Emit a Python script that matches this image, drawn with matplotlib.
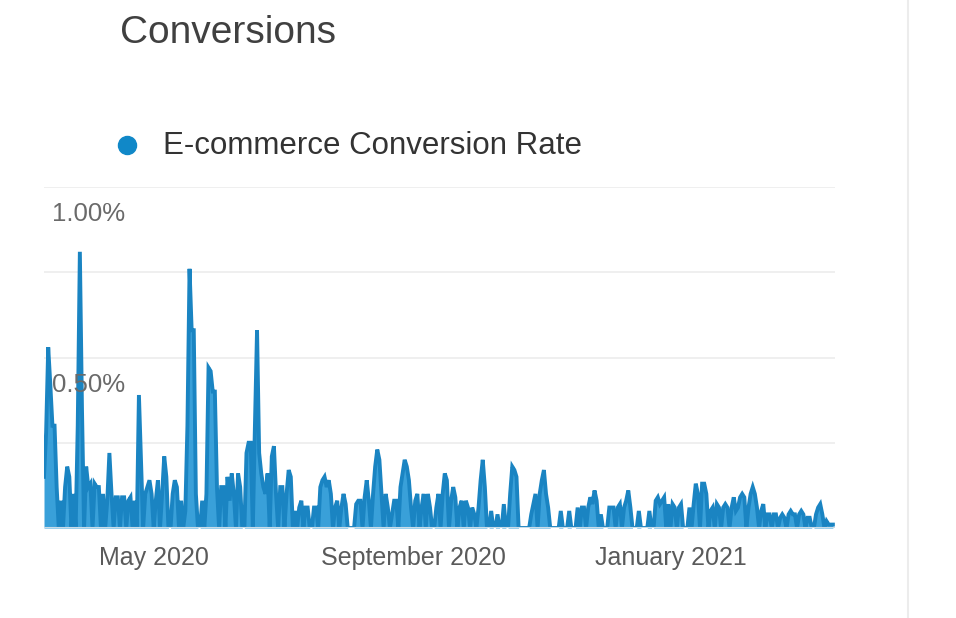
import matplotlib
matplotlib.use('Agg')
import matplotlib.pyplot as plt
import matplotlib.dates as mdates
from matplotlib.lines import Line2D
import pandas as pd

plt.rcParams['font.family'] = ['Liberation Sans', 'DejaVu Sans']

# daily e-commerce conversion rate (%)
mar_2020 = [0.15, 0.28, 0.53, 0.42, 0.30, 0.30, 0.12, 0.0, 0.08, 0.0, 0.12,
            0.18, 0.15, 0.0, 0.10, 0.0, 0.30, 0.81, 0.35, 0.0, 0.18, 0.12]
apr_2020 = [0.13, 0.0, 0.13, 0.12, 0.12, 0.0, 0.10, 0.0, 0.08, 0.22,
            0.10, 0.0, 0.09, 0.09, 0.0, 0.09, 0.09, 0.0, 0.08, 0.09,
            0.0, 0.08, 0.0, 0.39, 0.20, 0.0, 0.10, 0.12, 0.14, 0.10]
may_2020 = [0.0, 0.08, 0.14, 0.0, 0.10, 0.21, 0.15, 0.0, 0.0, 0.10,
            0.14, 0.12, 0.0, 0.08, 0.0, 0.05, 0.30, 0.76, 0.58, 0.58,
            0.10, 0.0, 0.0, 0.08, 0.0, 0.10, 0.47, 0.46, 0.40, 0.40, 0.12]
jun_2020 = [0.0, 0.12, 0.12, 0.0, 0.15, 0.08, 0.16, 0.10, 0.0, 0.16,
            0.12, 0.0, 0.0, 0.22, 0.25, 0.25, 0.0, 0.30, 0.58, 0.22,
            0.16, 0.12, 0.10, 0.16, 0.0, 0.21, 0.24, 0.10, 0.0, 0.12]
jul_2020 = [0.12, 0.0, 0.10, 0.17, 0.15, 0.0, 0.05, 0.0, 0.06, 0.08,
            0.0, 0.06, 0.06, 0.0, 0.0, 0.06, 0.06, 0.0, 0.12, 0.14,
            0.15, 0.12, 0.14, 0.10, 0.0, 0.06, 0.08, 0.0, 0.06, 0.10, 0.07]
aug_2020 = [0.0, 0.0, 0.0, 0.0, 0.07, 0.08, 0.08, 0.0, 0.09, 0.14,
            0.08, 0.0, 0.10, 0.18, 0.23, 0.20, 0.10, 0.0, 0.10, 0.06,
            0.0, 0.04, 0.08, 0.08, 0.0, 0.12, 0.16, 0.20, 0.18, 0.14, 0.06]
sep_2020 = [0.0, 0.08, 0.10, 0.0, 0.06, 0.10, 0.0, 0.10, 0.06, 0.0,
            0.0, 0.06, 0.10, 0.0, 0.10, 0.16, 0.14, 0.0, 0.08, 0.12,
            0.09, 0.0, 0.06, 0.08, 0.0, 0.08, 0.06, 0.0, 0.06, 0.04]
oct_2020 = [0.0, 0.06, 0.14, 0.20, 0.12, 0.0, 0.0, 0.05, 0.0, 0.0,
            0.04, 0.0, 0.0, 0.07, 0.0, 0.0, 0.10, 0.18, 0.17, 0.15,
            0.0, 0.0, 0.0, 0.0, 0.0, 0.0, 0.04, 0.07, 0.10, 0.0, 0.10]
nov_2020 = [0.14, 0.17, 0.10, 0.06, 0.0, 0.0, 0.0, 0.0, 0.0, 0.05,
            0.0, 0.0, 0.0, 0.05, 0.0, 0.0, 0.0, 0.06, 0.0, 0.06,
            0.06, 0.0, 0.06, 0.09, 0.07, 0.11, 0.08, 0.0, 0.04, 0.0]
dec_2020 = [0.0, 0.0, 0.06, 0.06, 0.06, 0.0, 0.06, 0.07, 0.0, 0.06,
            0.08, 0.11, 0.06, 0.0, 0.0, 0.0, 0.05, 0.0, 0.0, 0.0,
            0.0, 0.05, 0.0, 0.0, 0.08, 0.09, 0.07, 0.08, 0.09, 0.0, 0.07]
jan_2021 = [0.0, 0.07, 0.06, 0.0, 0.06, 0.07, 0.0, 0.0, 0.0, 0.06,
            0.0, 0.07, 0.13, 0.10, 0.0, 0.13, 0.13, 0.10, 0.0, 0.05,
            0.06, 0.0, 0.07, 0.06, 0.0, 0.06, 0.07, 0.06, 0.0, 0.06, 0.09]
feb_2021 = [0.05, 0.06, 0.09, 0.10, 0.09, 0.0, 0.06, 0.10, 0.12, 0.10,
            0.06, 0.0, 0.05, 0.07, 0.0, 0.04, 0.04, 0.0, 0.04, 0.04,
            0.0, 0.03, 0.04, 0.03, 0.0, 0.04, 0.05, 0.04]
mar_2021 = [0.04, 0.0, 0.04, 0.05, 0.04, 0.0, 0.03, 0.03, 0.0, 0.0,
            0.04, 0.06, 0.07, 0.04, 0.0, 0.02, 0.01, 0.01, 0.01]

rate = (mar_2020 + apr_2020 + may_2020 + jun_2020 + jul_2020 + aug_2020 +
        sep_2020 + oct_2020 + nov_2020 + dec_2020 + jan_2021 + feb_2021 +
        mar_2021)
dates = pd.date_range('2020-03-10', periods=len(rate), freq='D')

y_ticks = [0.5, 1.0]
y_tick_labels = ['0.50%', '1.00%']
x_ticks = ['2020-05-01', '2020-09-01', '2021-01-01']
x_tick_labels = ['May 2020', 'September 2020', 'January 2021']

W, H = 956, 618
fig = plt.figure(figsize=(W / 100, H / 100), dpi=100)
ax = fig.add_axes([44 / W, 1 - 528 / H, (835 - 44) / W, (528 - 187) / H])

line_col = '#1a84c2'
fill_col = '#2898d6'

ax.fill_between(dates, rate, 0, color=fill_col, alpha=0.92, lw=0, zorder=2)
ax.plot(dates, rate, color=line_col, lw=2.8, solid_joinstyle='miter', zorder=3)

ax.set_ylim(0, 1.0)
ax.set_xlim(dates[0], dates[0] + pd.Timedelta(days=len(rate)))

# gridlines
for g in [0.25, 0.5, 0.75, 1.0]:
    ax.axhline(g, color='#ececec', lw=1.2, zorder=1)
ax.axhline(0, color='#c9dce8', lw=1.5, zorder=4)

for s in ax.spines.values():
    s.set_visible(False)
ax.set_yticks([])
ax.set_xticks([mdates.date2num(pd.Timestamp(d)) for d in x_ticks])
ax.set_xticklabels(x_tick_labels, fontsize=18, color='#5a5a5a')
ax.tick_params(axis='x', length=0, pad=13)

# y labels sit inside the plot, just under their gridline
for v, lab in zip(y_ticks, y_tick_labels):
    ax.text(0.01, v - 0.045, lab, transform=ax.get_yaxis_transform(),
            ha='left', va='top', fontsize=18.5, color='#6a6a6a', zorder=6)

# header
fig.text(120 / W, 1 - 33 / H, 'Conversions', fontsize=28, color='#404040',
         ha='left', va='center')
fig.add_artist(Line2D([127 / W], [1 - 145 / H], marker='o', markersize=13,
                      color='#1088c8', lw=0))
fig.text(163 / W, 1 - 146 / H, 'E-commerce Conversion Rate', fontsize=22.5,
         color='#333333', ha='left', va='center')

# card border on the right
fig.add_artist(Line2D([908 / W, 908 / W], [0, 1], color='#ececec', lw=1.5))

fig.savefig('out.png', dpi=100, facecolor='white')
